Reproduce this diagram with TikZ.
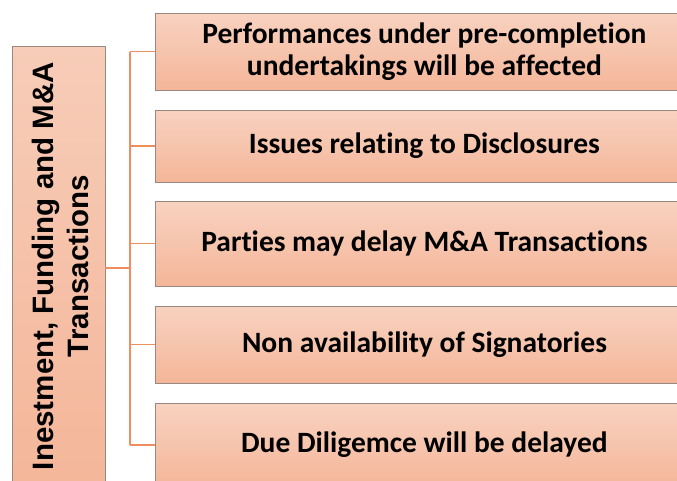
\documentclass[tikz,border=0pt]{standalone}
\usepackage{fontspec}
\setmainfont{Carlito}[Ligatures=NoCommon]
\newfontfamily\headfont{Liberation Sans}
\usetikzlibrary{positioning}
\definecolor{boxtop}{HTML}{F8D2C0}
\definecolor{boxbot}{HTML}{F4B699}
\definecolor{boxline}{HTML}{988880}
\definecolor{linkcol}{HTML}{EE8E5E}
\tikzset{
  itembox/.style={draw=boxline, line width=0.9pt, top color=boxtop, bottom color=boxbot,
    minimum width=538pt, anchor=west, align=center, inner sep=0pt,
    font=\fontsize{29.5}{32}\selectfont\bfseries},
  headbox/.style={draw=boxline, line width=0.9pt, top color=boxtop!80!boxbot, bottom color=boxbot,
    minimum width=93pt, minimum height=444pt, inner sep=0pt},
  headtext/.style={align=center, inner sep=0pt, rotate=90,
    font=\headfont\fontsize{29.5}{35}\selectfont\bfseries},
  link/.style={draw=linkcol, line width=1.6pt},
  trunk/.style={draw=linkcol, line width=2.6pt}
}
\begin{document}
\begin{tikzpicture}[x=1pt,y=-1pt]
\useasboundingbox (0,0) rectangle (677,480);
\clip (0,0) rectangle (677,480);
% left heading box, text running upwards
\node[headbox] (head) at (58.5,268) {};
\node[headtext] (headlabel) at (60.5,266) {Inestment, Funding and M\&A\\Transactions};
% branch boxes
\node[itembox, minimum height=77pt] (b1) at (155,51.5) {Performances under pre-completion\\undertakings will be affected};
\node[itembox, minimum height=72pt] (b2) at (155,146) {Issues relating to Disclosures};
\node[itembox, minimum height=85pt] (b3) at (155,243.5) {Parties may delay M\&A Transactions};
\node[itembox, minimum height=77pt] (b4) at (155,344.5) {Non availability of Signatories};
\node[itembox, minimum height=84pt] (b5) at (155,445) {Due Diligemce will be delayed};
% connectors
\coordinate (j) at (130,268);
\coordinate (top) at (130,51.5);
\coordinate (bot) at (130,445);
\draw[trunk] (head.east |- j) -- (j);
\draw[link] (top) -- (bot);
\foreach \b in {b1,b2,b3,b4,b5}
  \draw[link] (j |- \b.west) -- (\b.west);
\end{tikzpicture}
\end{document}
